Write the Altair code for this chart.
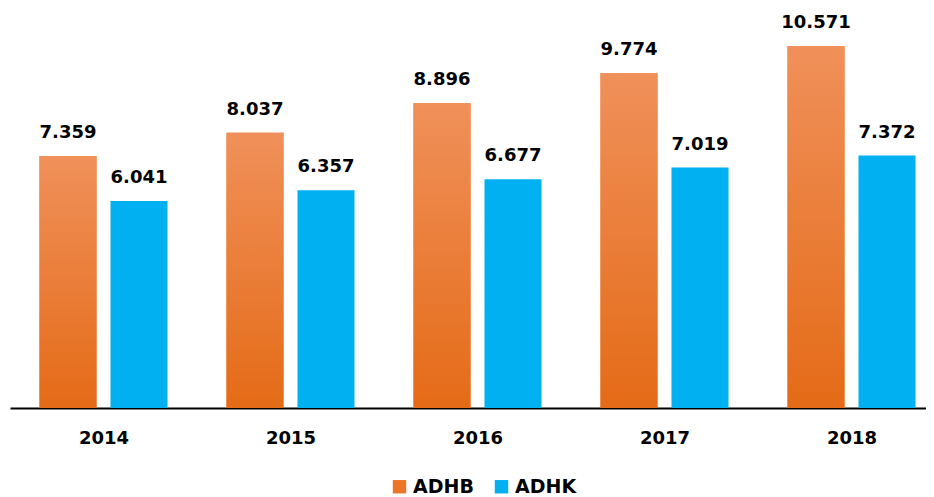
import altair as alt
import pandas as pd

years = [2014, 2015, 2016, 2017, 2018]
adhb = [7.359, 8.037, 8.896, 9.774, 10.571]
adhk = [6.041, 6.357, 6.677, 7.019, 7.372]
series = ["ADHB", "ADHK"]
colors = ["#EA7626", "#00B0F0"]

rows = []
for y, a, k in zip(years, adhb, adhk):
    rows.append({"year": y, "series": "ADHB", "value": a, "label": f"{a:.3f}"})
    rows.append({"year": y, "series": "ADHK", "value": k, "label": f"{k:.3f}"})
df = pd.DataFrame(rows)

FONT = "DejaVu Sans"
W, H = 916, 400
STEP = 187.0
BAR = 57
SHIFT = 35.5 / STEP  # half group offset in year units

x_scale = alt.Scale(domain=[2013.5, 2013.5 + W / STEP], nice=False, zero=False, padding=0)
x_enc = alt.X("pos:Q", scale=x_scale,
              axis=alt.Axis(title=None, values=years, format="d", labelAngle=0,
                            ticks=False, labelPadding=21, grid=False,
                            labelFont=FONT, labelFontSize=18, labelFontWeight="bold",
                            labelColor="#000000", domainColor="#000000", domainWidth=2,
                            labelFlush=False, labelOverlap=False))
y_enc = alt.Y("value:Q", scale=alt.Scale(domain=[0, 11.68], nice=False, zero=True, padding=0),
              axis=None)

base = alt.Chart(df).transform_calculate(
    pos=f"datum.year + (datum.series == 'ADHB' ? -{SHIFT} : {SHIFT})"
)

bars = base.mark_bar(size=BAR).encode(
    x=x_enc, y=y_enc,
    color=alt.Color("series:N", sort=series,
                    scale=alt.Scale(domain=series, range=colors),
                    legend=alt.Legend(title=None, orient="none", direction="horizontal",
                                      legendX=380, legendY=469,
                                      labelFont=FONT, labelFontSize=19, labelFontWeight="bold",
                                      labelColor="#000000", symbolType="square",
                                      symbolSize=180, symbolStrokeWidth=0,
                                      columnPadding=18, labelOffset=4, padding=0)),
)

gradient = {
    "gradient": "linear",
    "x1": 0, "y1": 0, "x2": 0, "y2": 1,
    "stops": [
        {"offset": 0, "color": "#F0905A"},
        {"offset": 1, "color": "#E46B17"},
    ],
}

orange = base.transform_filter(alt.datum.series == "ADHB").mark_bar(
    size=BAR, color=gradient).encode(x=x_enc, y=y_enc)

labels = base.mark_text(baseline="bottom", dy=-14, font=FONT, fontSize=18,
                        fontWeight="bold", color="#000000").encode(
    x=x_enc, y=y_enc, text="label:N",
)

chart = alt.layer(bars, orange, labels).properties(
    width=W, height=H,
    padding={"left": 2, "right": 0, "top": 0, "bottom": 0},
    background="#FFFFFF",
).configure_view(stroke=None)

chart.save("out.html", embed_options={"renderer": "svg", "actions": False})
